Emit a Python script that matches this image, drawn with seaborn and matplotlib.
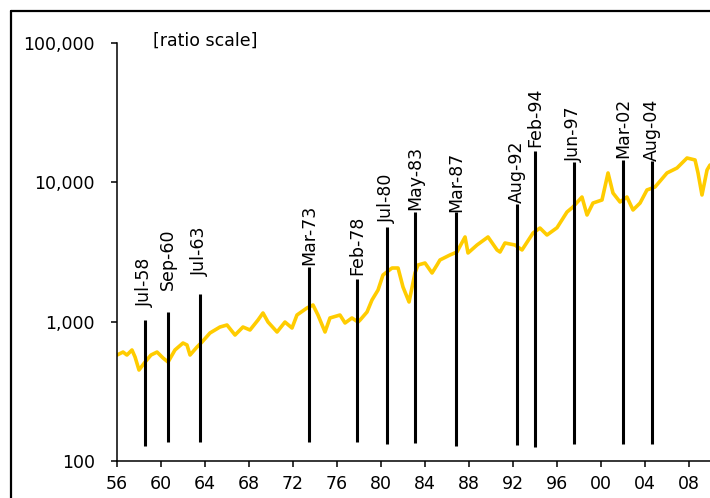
import numpy as np
import pandas as pd
import matplotlib
matplotlib.use('Agg')
import matplotlib.pyplot as plt
import matplotlib.ticker as mticker
from matplotlib.lines import Line2D
import seaborn as sns

# index level (monthly)
years = [1956.0, 1956.55, 1956.9, 1957.36, 1957.64, 1958.0, 1958.55, 1959.09, 1959.64, 1960.18,
         1960.64, 1961.27, 1962.0, 1962.36, 1962.64, 1963.27, 1963.73, 1964.45, 1965.36, 1966.0,
         1966.73, 1967.45, 1968.09, 1968.82, 1969.27, 1969.73, 1970.55, 1971.27, 1971.91, 1972.36,
         1973.27, 1973.82, 1974.27, 1974.91, 1975.36, 1976.27, 1976.73, 1977.36, 1977.91, 1978.1,
         1978.73, 1979.18, 1979.73, 1980.18, 1981.0, 1981.55, 1982.0, 1982.55, 1983.09, 1983.36,
         1984.0, 1984.64, 1985.09, 1985.36, 1986.27, 1986.9, 1987.64, 1987.91, 1988.73, 1989.73,
         1990.55, 1990.82, 1991.27, 1992.18, 1992.82, 1993.82, 1994.45, 1995.09, 1996.0, 1996.91,
         1997.45, 1998.27, 1998.73, 1999.27, 2000.09, 2000.64, 2001.09, 2001.73, 2002.36, 2002.91,
         2003.55, 2004.18, 2004.91, 2006.0, 2006.91, 2007.82, 2008.55, 2008.82, 2009.18, 2009.64,
         2009.91]
index_level = [575, 604, 575, 625, 557, 449, 512, 575, 604, 548,
               512, 625, 701, 679, 575, 656, 713, 827, 913, 944,
               800, 913, 869, 1025, 1151, 991, 841, 991, 898, 1113,
               1250, 1313, 1113, 841, 1060, 1113, 976, 1060, 991, 1025,
               1170, 1426, 1681, 2154, 2418, 2418, 1767, 1380, 2227, 2541,
               2626, 2227, 2541, 2761, 2998, 3148, 4036, 3098, 3535, 4036,
               3258, 3148, 3654, 3535, 3258, 4308, 4678, 4169, 4700, 6095,
               6618, 7807, 5801, 7066, 7430, 11610, 8337, 7190, 7807, 6300,
               7066, 8770, 9206, 11610, 12600, 14860, 14390, 11610, 8070, 12190,
               13240]

# event markers (positions)
event_labels = ['Jul-58', 'Sep-60', 'Jul-63', 'Mar-73', 'Feb-78', 'Jul-80', 'May-83',
                'Mar-87', 'Aug-92', 'Feb-94', 'Jun-97', 'Mar-02', 'Aug-04']
event_dates = [1958.55, 1960.64, 1963.55, 1973.45, 1977.82, 1980.55, 1983.09,
               1986.86, 1992.36, 1994.0, 1997.55, 2002.0, 2004.64]
event_top = [1025, 1170, 1574, 2459, 2017, 4757, 6095, 6095, 6957, 16680, 13900, 14390, 14160]
event_bottom = [128, 137, 137, 137, 137, 132, 135, 128, 130, 126, 132, 132, 132]
label_level = [1270, 1681, 2119, 2541, 2154, 5085, 6300, 6095, 7066, 17820, 13900, 14860, 14160]

xticks = list(range(1956, 2010, 4))
xtick_labels = ['%02d' % (y % 100) for y in xticks]
yticks = [100, 1000, 10000, 100000]

df = pd.DataFrame({'year': years, 'level': index_level})

sns.set_theme(style='white')
plt.rcParams['font.family'] = ['DejaVu Sans']
fs = 12.5

fig = plt.figure(figsize=(7.10, 4.98), dpi=100)
ax = fig.add_axes([117 / 710, 37 / 498, 594 / 710, 418.5 / 498])

sns.lineplot(data=df, x='year', y='level', color='#FFCC00', linewidth=2.6, ax=ax)
ax.vlines(event_dates, event_bottom, event_top, color='black', linewidth=2.2, zorder=3)
for d, lab, lv in zip(event_dates, event_labels, label_level):
    ax.text(d, lv, lab, rotation=90, ha='center', va='bottom', fontsize=fs, color='black')

ax.set_yscale('log')
ax.set_ylim(100, 100000)
ax.set_xlim(1956, 2010)
ax.set_yticks(yticks)
ax.yaxis.set_major_formatter(mticker.FuncFormatter(lambda v, p: f'{int(v):,}'))
ax.yaxis.set_minor_locator(mticker.NullLocator())
ax.set_xticks(xticks)
ax.set_xticklabels(xtick_labels)
ax.set_xlabel('')
ax.set_ylabel('')

for s in ['top', 'right']:
    ax.spines[s].set_visible(False)
for s in ['left', 'bottom']:
    ax.spines[s].set_color('black')
    ax.spines[s].set_linewidth(1.1)
ax.tick_params(axis='both', which='major', direction='out', length=4, width=1.1,
               color='black', labelsize=fs, labelcolor='black')
ax.tick_params(axis='y', pad=12, left=True)
ax.tick_params(axis='x', pad=6, bottom=True)
ax.grid(False)

ax.text(0.061, 1.004, '[ratio scale]', transform=ax.transAxes, fontsize=fs,
        ha='left', va='center', color='black')

# outer chart frame (cropped)
fig.add_artist(Line2D([11 / 710, 11 / 710], [0, 1 - 11 / 498], color='black', linewidth=1.6,
                      transform=fig.transFigure))
fig.add_artist(Line2D([11 / 710, 1], [1 - 11 / 498, 1 - 11 / 498], color='black', linewidth=1.6,
                      transform=fig.transFigure))

fig.savefig('out.png', dpi=100)
